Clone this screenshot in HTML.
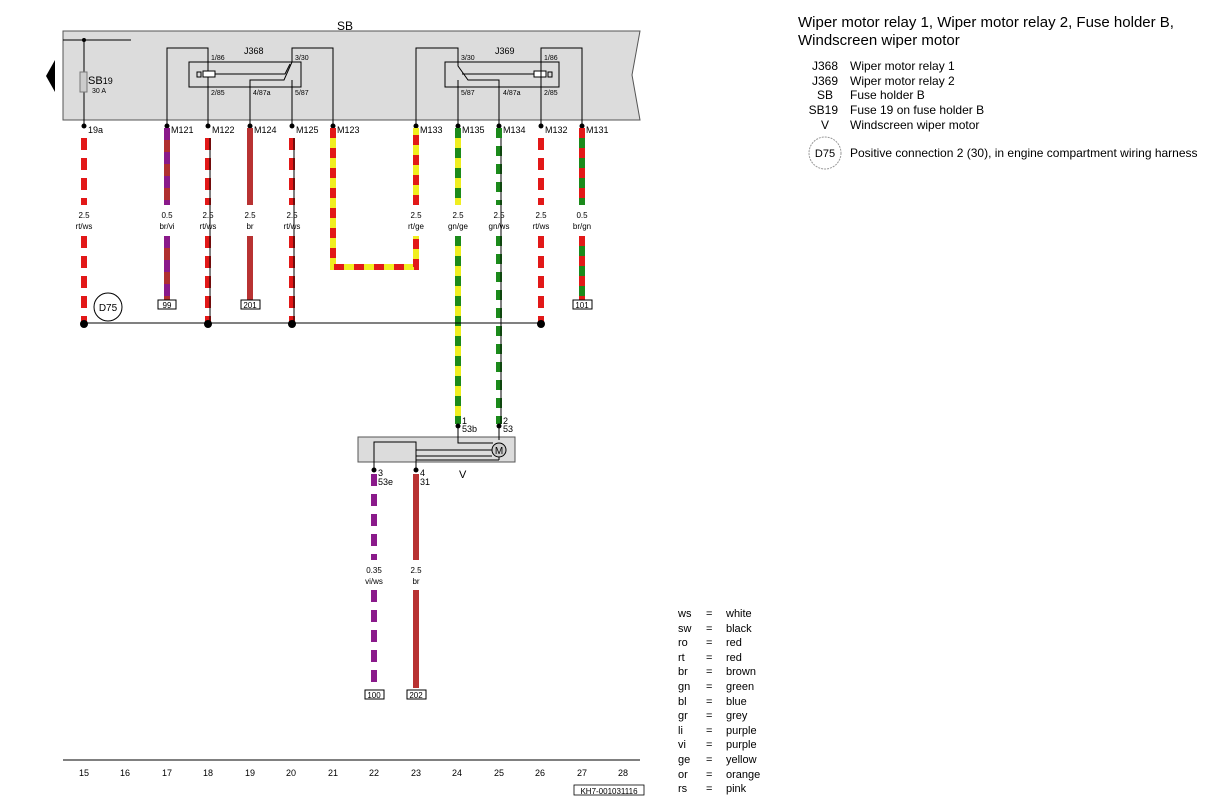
<!DOCTYPE html>
<html><head><meta charset="utf-8"><style>
body{margin:0;background:#fff}
svg{display:block;font-family:"Liberation Sans",Arial,sans-serif}
</style></head><body>
<svg width="1224" height="801" viewBox="0 0 1224 801" xmlns="http://www.w3.org/2000/svg">
<path d="M63 31 L640 31 L632 75 L640 120 L63 120 Z" fill="#dcdcdc" stroke="#555" stroke-width="1"/>
<text x="337" y="30" font-size="12">SB</text>
<polygon points="46,76 55,60 55,92" fill="#000"/>
<line x1="63" y1="40" x2="131" y2="40" stroke="#000"/>
<circle cx="84" cy="40" r="2" fill="#000"/>
<line x1="84" y1="40" x2="84" y2="126" stroke="#000"/>
<rect x="80" y="72" width="7" height="20" fill="#ccc" stroke="#777"/>
<text x="88" y="84" font-size="11">SB<tspan font-size="9">19</tspan></text>
<text x="92" y="93" font-size="7">30 A</text>
<g stroke="#000" fill="none" stroke-width="1">
<polyline points="167,126 167,48 208,48 208,58"/>
<rect x="189" y="62" width="112" height="25"/>
<line x1="208" y1="58" x2="208" y2="126"/>
<rect x="203" y="71" width="12" height="6" fill="#fff"/>
<rect x="197" y="72" width="4" height="5"/>
<polyline points="215,74 285,74 290,64"/>
<polyline points="292,56 292,62 284,80 250,80 250,126"/>
<line x1="292" y1="80" x2="292" y2="126"/>
<polyline points="292,56 292,48 333,48 333,126"/>
</g>
<text x="244" y="54" font-size="9">J368</text>
<g font-size="7"><text x="211" y="60">1/86</text><text x="211" y="95">2/85</text><text x="253" y="95">4/87a</text><text x="295" y="60">3/30</text><text x="295" y="95">5/87</text></g>
<g stroke="#000" fill="none" stroke-width="1">
<polyline points="416,126 416,48 458,48 458,58"/>
<rect x="445" y="62" width="114" height="25"/>
<polyline points="458,58 458,66 468,80 499,80 499,126"/>
<line x1="458" y1="80" x2="458" y2="126"/>
<polyline points="462,74 534,74"/>
<rect x="534" y="71" width="12" height="6" fill="#fff"/>
<rect x="548" y="72" width="4" height="5"/>
<polyline points="582,126 582,48 541,48 541,126"/>
</g>
<text x="495" y="54" font-size="9">J369</text>
<g font-size="7"><text x="461" y="60">3/30</text><text x="461" y="95">5/87</text><text x="503" y="95">4/87a</text><text x="544" y="60">1/86</text><text x="544" y="95">2/85</text></g>
<g font-size="9">
<text x="88" y="133">19a</text><text x="171" y="133">M121</text><text x="212" y="133">M122</text><text x="254" y="133">M124</text><text x="296" y="133">M125</text><text x="337" y="133">M123</text><text x="420" y="133">M133</text><text x="462" y="133">M135</text><text x="503" y="133">M134</text><text x="545" y="133">M132</text><text x="586" y="133">M131</text>
</g>
<g fill="#000">
<circle cx="84" cy="126" r="2.5"/><circle cx="167" cy="126" r="2.5"/><circle cx="208" cy="126" r="2.5"/><circle cx="250" cy="126" r="2.5"/><circle cx="292" cy="126" r="2.5"/><circle cx="333" cy="126" r="2.5"/><circle cx="416" cy="126" r="2.5"/><circle cx="458" cy="126" r="2.5"/><circle cx="499" cy="126" r="2.5"/><circle cx="541" cy="126" r="2.5"/><circle cx="582" cy="126" r="2.5"/>
</g>
<g stroke-width="6" fill="none">
<g stroke="#e21818" stroke-dasharray="12 8">
<path d="M84 138V205M84 236V322"/><path d="M208 138V205M208 236V322"/><path d="M292 138V205M292 236V322"/><path d="M541 138V205M541 236V322"/>
</g>
<path d="M167 128V205M167 236V300" stroke="#b03030"/>
<path d="M167 128V205M167 236V300" stroke="#8a1a8a" stroke-dasharray="12 12"/>
<path d="M250 128V205M250 236V300" stroke="#b83232"/>
<path d="M333 128V267H416V236M416 205V128" stroke="#f0ee20"/>
<path d="M333 128V267H416V236M416 205V128" stroke="#e21818" stroke-dasharray="10 10"/>
<path d="M458 128V205M458 236V424" stroke="#f0ee20"/>
<path d="M458 128V205M458 236V424" stroke="#1b8a1b" stroke-dasharray="10 10"/>
<path d="M499 128V205M499 236V424" stroke="#1b8a1b" stroke-dasharray="10 8"/>
<path d="M582 128V205M582 236V300" stroke="#1b8a1b"/>
<path d="M582 128V205M582 236V300" stroke="#e21818" stroke-dasharray="10 10"/>
<path d="M374 474V560M374 590V688" stroke="#8a1a8a" stroke-dasharray="12 8"/>
<path d="M416 474V560M416 590V688" stroke="#b83232"/>
</g>
<g stroke="#000" stroke-width="1">
<line x1="210" y1="138" x2="210" y2="322"/><line x1="294" y1="138" x2="294" y2="322"/><line x1="501" y1="138" x2="501" y2="424"/>
<line x1="84" y1="323" x2="541" y2="323"/>
</g>
<g fill="#000"><circle cx="84" cy="324" r="4"/><circle cx="208" cy="324" r="4"/><circle cx="292" cy="324" r="4"/><circle cx="541" cy="324" r="4"/></g>
<circle cx="108" cy="307" r="14" fill="#fff" stroke="#000"/>
<text x="108" y="311" font-size="10" text-anchor="middle">D75</text>
<g font-size="8" text-anchor="middle">
<text x="84" y="218">2.5</text><text x="84" y="229">rt/ws</text>
<text x="167" y="218">0.5</text><text x="167" y="229">br/vi</text>
<text x="208" y="218">2.5</text><text x="208" y="229">rt/ws</text>
<text x="250" y="218">2.5</text><text x="250" y="229">br</text>
<text x="292" y="218">2.5</text><text x="292" y="229">rt/ws</text>
<text x="416" y="218">2.5</text><text x="416" y="229">rt/ge</text>
<text x="458" y="218">2.5</text><text x="458" y="229">gn/ge</text>
<text x="499" y="218">2.5</text><text x="499" y="229">gn/ws</text>
<text x="541" y="218">2.5</text><text x="541" y="229">rt/ws</text>
<text x="582" y="218">0.5</text><text x="582" y="229">br/gn</text>
<text x="374" y="573">0.35</text><text x="374" y="584">vi/ws</text>
<text x="416" y="573">2.5</text><text x="416" y="584">br</text>
</g>
<g font-size="8" text-anchor="middle" fill="#000">
<rect x="158" y="300" width="18" height="9" fill="#fff" stroke="#000"/><text x="167" y="308">99</text>
<rect x="241" y="300" width="19" height="9" fill="#fff" stroke="#000"/><text x="250" y="308">201</text>
<rect x="573" y="300" width="19" height="9" fill="#fff" stroke="#000"/><text x="582" y="308">101</text>
<rect x="365" y="690" width="19" height="9" fill="#fff" stroke="#000"/><text x="374" y="698">100</text>
<rect x="407" y="690" width="19" height="9" fill="#fff" stroke="#000"/><text x="416" y="698">202</text>
</g>
<rect x="358" y="437" width="157" height="25" fill="#dcdcdc" stroke="#555"/>
<g stroke="#000" fill="none">
<polyline points="458,426 458,443 493,443"/>
<polyline points="499,426 499,440"/>
<polyline points="374,470 374,442 416,442 416,470"/>
<line x1="416" y1="450" x2="492" y2="450"/>
<line x1="416" y1="456" x2="492" y2="456"/>
<line x1="416" y1="460" x2="499" y2="460"/>
<line x1="499" y1="460" x2="499" y2="457"/>
</g>
<circle cx="499" cy="450" r="7" fill="#ccc" stroke="#000"/>
<text x="499" y="454" font-size="10" text-anchor="middle">M</text>
<g fill="#000"><circle cx="458" cy="426" r="2.5"/><circle cx="499" cy="426" r="2.5"/><circle cx="374" cy="470" r="2.5"/><circle cx="416" cy="470" r="2.5"/></g>
<g font-size="9">
<text x="462" y="424">1</text><text x="462" y="432">53b</text>
<text x="503" y="424">2</text><text x="503" y="432">53</text>
<text x="378" y="476">3</text><text x="378" y="485">53e</text>
<text x="420" y="476">4</text><text x="420" y="485">31</text>
<text x="459" y="478" font-size="11">V</text>
</g>
<line x1="63" y1="760" x2="640" y2="760" stroke="#000"/>
<g font-size="9" text-anchor="middle">
<text x="84" y="776">15</text><text x="125" y="776">16</text><text x="167" y="776">17</text><text x="208" y="776">18</text><text x="250" y="776">19</text><text x="291" y="776">20</text><text x="333" y="776">21</text><text x="374" y="776">22</text><text x="416" y="776">23</text><text x="457" y="776">24</text><text x="499" y="776">25</text><text x="540" y="776">26</text><text x="582" y="776">27</text><text x="623" y="776">28</text>
</g>
<rect x="574" y="785" width="70" height="10" fill="none" stroke="#000" stroke-width="0.8"/>
<text x="609" y="794" font-size="8" text-anchor="middle">KH7-001031116</text>
<text x="798" y="27" font-size="15">Wiper motor relay 1, Wiper motor relay 2, Fuse holder B,</text>
<text x="798" y="45" font-size="15">Windscreen wiper motor</text>
<g font-size="12">
<text x="838" y="70" text-anchor="end">J368</text><text x="850" y="70">Wiper motor relay 1</text>
<text x="838" y="85" text-anchor="end">J369</text><text x="850" y="85">Wiper motor relay 2</text>
<text x="833" y="99" text-anchor="end">SB</text><text x="850" y="99">Fuse holder B</text>
<text x="838" y="114" text-anchor="end">SB19</text><text x="850" y="114">Fuse 19 on fuse holder B</text>
<text x="829" y="129" text-anchor="end">V</text><text x="850" y="129">Windscreen wiper motor</text>
<text x="850" y="157">Positive connection 2 (30), in engine compartment wiring harness</text>
</g>
<circle cx="825" cy="153" r="16" fill="none" stroke="#999" stroke-dasharray="2 1"/>
<text x="825" y="157" font-size="11" text-anchor="middle">D75</text>
<g font-size="11">
<text x="678" y="617">ws</text><text x="706" y="617">=</text><text x="726" y="617">white</text>
<text x="678" y="632">sw</text><text x="706" y="632">=</text><text x="726" y="632">black</text>
<text x="678" y="646">ro</text><text x="706" y="646">=</text><text x="726" y="646">red</text>
<text x="678" y="661">rt</text><text x="706" y="661">=</text><text x="726" y="661">red</text>
<text x="678" y="675">br</text><text x="706" y="675">=</text><text x="726" y="675">brown</text>
<text x="678" y="690">gn</text><text x="706" y="690">=</text><text x="726" y="690">green</text>
<text x="678" y="705">bl</text><text x="706" y="705">=</text><text x="726" y="705">blue</text>
<text x="678" y="719">gr</text><text x="706" y="719">=</text><text x="726" y="719">grey</text>
<text x="678" y="734">li</text><text x="706" y="734">=</text><text x="726" y="734">purple</text>
<text x="678" y="748">vi</text><text x="706" y="748">=</text><text x="726" y="748">purple</text>
<text x="678" y="763">ge</text><text x="706" y="763">=</text><text x="726" y="763">yellow</text>
<text x="678" y="778">or</text><text x="706" y="778">=</text><text x="726" y="778">orange</text>
<text x="678" y="792">rs</text><text x="706" y="792">=</text><text x="726" y="792">pink</text>
</g>
</svg>
</body></html>
